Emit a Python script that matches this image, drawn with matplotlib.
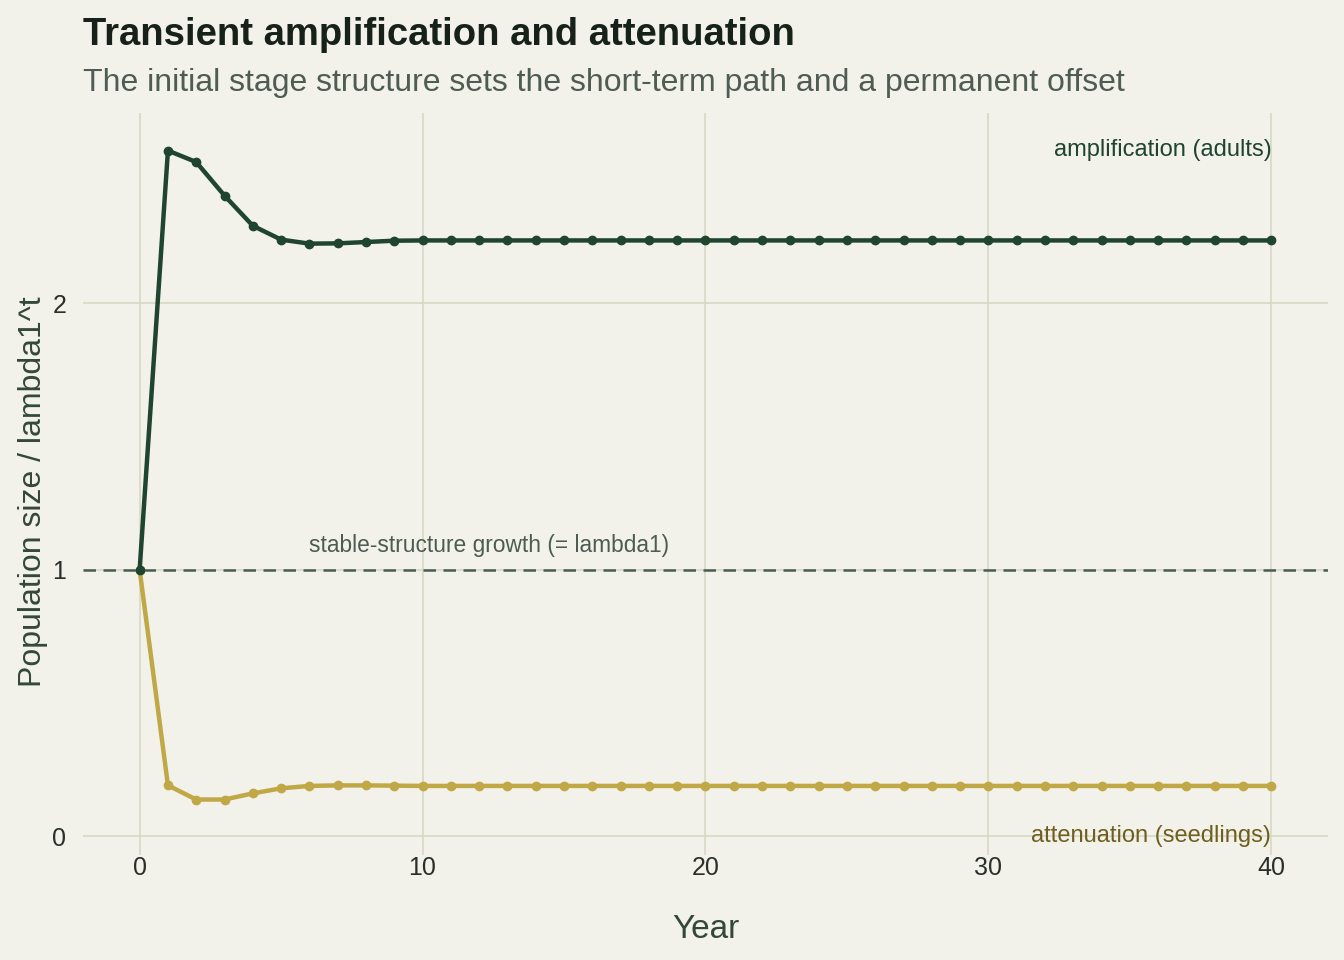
import matplotlib.pyplot as plt
import matplotlib

matplotlib.rcParams["font.family"] = ["Liberation Sans", "DejaVu Sans"]

# =========================
# 数据
# =========================
years = list(range(0, 41))

adults = [1.0, 2.572, 2.529, 2.403, 2.290, 2.238, 2.223, 2.224, 2.229, 2.234] + [2.235] * 31
seedlings = [1.0, 0.191, 0.138, 0.138, 0.161, 0.180, 0.189, 0.191, 0.191, 0.190] + [0.189] * 31

x_ticks = [0, 10, 20, 30, 40]
y_ticks = [0, 1, 2]

BG = "#f2f1ea"
GRID = "#d8d8c6"
DARK = "#1f4430"
GOLD = "#bfa845"
OLIVE = "#6e5f1e"
GREY = "#4d5c52"

fig = plt.figure(figsize=(13.44, 9.6), dpi=100, facecolor=BG)
ax = fig.add_axes([0.0618, 0.1094, 0.9262, 0.7729], facecolor=BG)

ax.axhline(1, color=GREY, linestyle=(0, (5, 3)), linewidth=1.8, zorder=2)

ax.plot(years, adults, color=DARK, linewidth=3.2, marker="o", markersize=6, zorder=4)
ax.plot(years, seedlings, color=GOLD, linewidth=3.2, marker="o", markersize=6, zorder=3)

ax.set_xlim(-2, 42)
ax.set_ylim(-0.07, 2.713)
ax.set_xticks(x_ticks)
ax.set_yticks(y_ticks)
ax.grid(True, color=GRID, linewidth=1.2)
ax.set_axisbelow(True)
for s in ax.spines.values():
    s.set_visible(False)
ax.tick_params(length=0, labelsize=18, labelcolor="#2a2f2b")
ax.tick_params(axis="x", pad=1)
ax.tick_params(axis="y", pad=12)

ax.set_xlabel("Year", fontsize=24, color="#34473b", labelpad=24)
ax.set_ylabel("Population size / lambda1^t", fontsize=23, color="#34473b")
# 轴标题位置（像素换算）
ax.yaxis.set_label_coords(-0.028, 0.49)

ax.text(40, 2.575, "amplification (adults)", ha="right", va="center", fontsize=17, color=DARK)
ax.text(40, 0.0, "attenuation (seedlings)", ha="right", va="center", fontsize=17, color=OLIVE)
ax.text(6, 1.09, "stable-structure growth (= lambda1)", ha="left", va="center", fontsize=16.4, color=GREY)

fig.text(83 / 1344, 1 - 35 / 960, "Transient amplification and attenuation",
         fontsize=27.5, fontweight="bold", color="#16211a", ha="left", va="center")
fig.text(83 / 1344, 1 - 83 / 960, "The initial stage structure sets the short-term path and a permanent offset",
         fontsize=23, color="#4f5c54", ha="left", va="center")

fig.savefig("out.png", dpi=100, facecolor=BG)
